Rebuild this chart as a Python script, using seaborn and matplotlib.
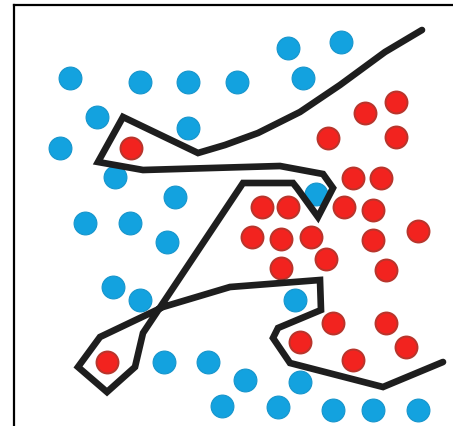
import pandas as pd
import seaborn as sns
import matplotlib.pyplot as plt

# ------------------------------
# Data (image-like units, y grows downward)
# ------------------------------
blue_x = [70, 140, 188, 237, 288, 341, 303, 97, 188, 60, 115, 175, 316, 85,
          130, 167, 113, 140, 295, 164, 208, 245, 300, 222, 278, 333, 373, 418]
blue_y = [78, 82, 82, 82, 48, 42, 78, 117, 128, 148, 177, 197, 194, 223,
          223, 242, 287, 300, 300, 362, 362, 380, 382, 406, 407, 410, 410, 410]

red_x = [131, 396, 365, 328, 396, 353, 381, 262, 288, 344, 373, 252, 281,
         311, 373, 418, 281, 326, 386, 333, 386, 300, 406, 353, 107]
red_y = [148, 102, 113, 138, 137, 178, 178, 207, 207, 207, 210, 237, 239,
         237, 240, 231, 268, 259, 270, 323, 323, 342, 347, 360, 362]

# overfitted decision boundary, one polyline in drawing order
boundary_x = [422, 385, 340, 300, 258, 225, 198, 123, 98, 143, 280, 323, 333,
              318, 297, 293, 243, 143, 135, 107, 78, 100, 163, 230, 320, 321,
              278, 273, 290, 383, 443]
boundary_y = [30, 52, 85, 112, 133, 145, 153, 117, 162, 170, 166, 174, 188,
              217, 188, 183, 183, 333, 367, 392, 367, 337, 307, 287, 280, 310,
              328, 338, 363, 387, 362]

# ------------------------------
# Frames
# ------------------------------
pts = pd.DataFrame({
    "x": blue_x + red_x,
    "y": blue_y + red_y,
    "cls": ["blue"] * len(blue_x) + ["red"] * len(red_x),
})
line = pd.DataFrame({"x": boundary_x, "y": boundary_y, "order": range(len(boundary_x))})

# ------------------------------
# Plot
# ------------------------------
sns.set_style("white")
fig = plt.figure(figsize=(4.53, 4.26), dpi=100)
ax = fig.add_axes([14 / 453, 0, 439 / 453, 421 / 426])

sns.scatterplot(data=pts[pts.cls == "blue"], x="x", y="y", color="#13A2DF",
                s=270, edgecolor="#1695CC", linewidth=0.8, ax=ax, zorder=2)
sns.scatterplot(data=pts[pts.cls == "red"], x="x", y="y", color="#F2231F",
                s=250, edgecolor="#B8352C", linewidth=1.4, ax=ax, zorder=2)
sns.lineplot(data=line, x="x", y="y", sort=False, estimator=None,
             color="#1E1E1E", linewidth=4.8, ax=ax, zorder=3)
ax.lines[-1].set_solid_joinstyle("miter")

ax.set_xlim(14, 453)
ax.set_ylim(426, 5)
ax.set_xticks([])
ax.set_yticks([])
ax.set_xlabel("")
ax.set_ylabel("")
for side in ["right", "bottom"]:
    ax.spines[side].set_visible(False)
for side in ["left", "top"]:
    ax.spines[side].set_color("black")
    ax.spines[side].set_linewidth(1.6)

fig.savefig("out.png", dpi=100)
